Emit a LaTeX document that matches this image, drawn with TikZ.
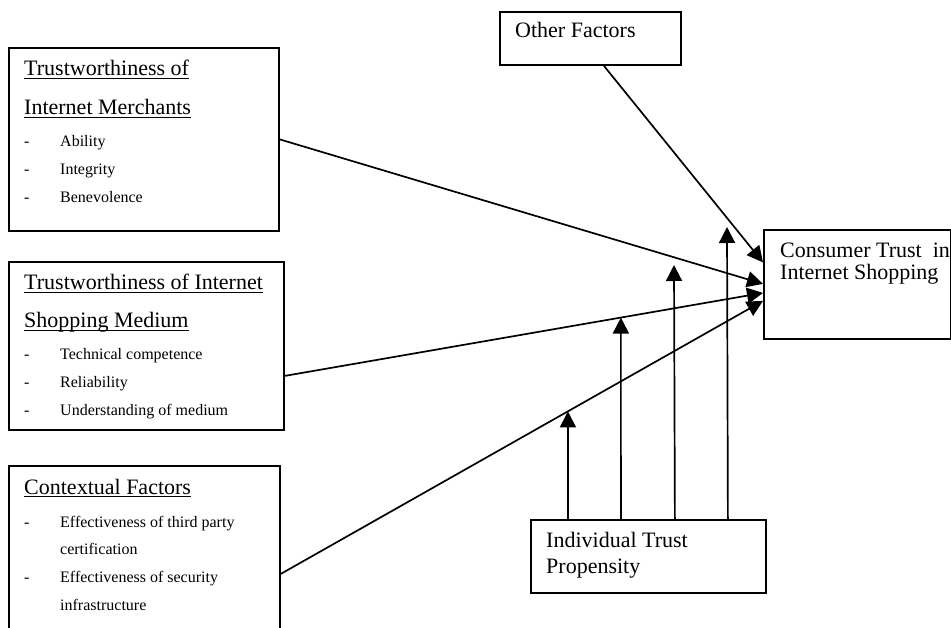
\documentclass[tikz,border=0pt]{standalone}
\usepackage{fontspec}
\setmainfont{Liberation Serif}
\usetikzlibrary{arrows.meta,calc}
\newcommand\ulx[1]{\setbox0\hbox{#1}\rlap{\rule[-2.6pt]{\wd0}{1pt}}\box0}
\tikzset{
  box/.style={draw=black, line width=1.8pt, rectangle, inner sep=0pt, anchor=north west},
  hd/.style={inner sep=0pt, anchor=base west, font=\fontsize{22}{26}\selectfont},
  it/.style={inner sep=0pt, anchor=base west, font=\fontsize{16}{19}\selectfont},
  conn/.style={line width=1.7pt, -{Triangle[length=16pt,width=16pt]}}
}
\begin{document}
\begin{tikzpicture}[x=1pt,y=-1pt]
\clip (0,0) rectangle (951,628);
\fill[white] (0,0) rectangle (951,628);
% boxes
\node[box, minimum width=270, minimum height=183] (m) at (8,47) {};
\node[box, minimum width=275, minimum height=168] (s) at (8,261) {};
\node[box, minimum width=271, minimum height=190] (c) at (8,465) {};
\node[box, minimum width=181, minimum height=53] (of) at (499,11) {};
\node[box, minimum width=187, minimum height=109] (ct) at (763,229) {};
\node[box, minimum width=235, minimum height=73] (itp) at (530,519) {};
% box 1 text
\node[hd] (m1) at (24,76) {\ulx{Trustworthiness of}};
\node[hd] (m2) at (24,115) {\ulx{Internet Merchants}};
\node[it] (md1) at (24,147) {-};
\node[it] (mi1) at (60,147) {Ability};
\node[it] (md2) at (24,175) {-};
\node[it] (mi2) at (60,175) {Integrity};
\node[it] (md3) at (24,203) {-};
\node[it] (mi3) at (60,203) {Benevolence};
% box 2 text
\node[hd] (s1) at (24,290) {\ulx{Trustworthiness of Internet}};
\node[hd] (s2) at (24,328) {\ulx{Shopping Medium}};
\node[it] (sd1) at (24,360) {-};
\node[it] (si1) at (60,360) {Technical competence};
\node[it] (sd2) at (24,388) {-};
\node[it] (si2) at (60,388) {Reliability};
\node[it] (sd3) at (24,416) {-};
\node[it] (si3) at (60,416) {Understanding of medium};
% box 3 text
\node[hd] (c1) at (24,494) {\ulx{Contextual Factors}};
\node[it] (cd1) at (24,527) {-};
\node[it] (ci1) at (60,527) {Effectiveness of third party};
\node[it] (ci1b) at (60,554) {certification};
\node[it] (cd2) at (24,582) {-};
\node[it] (ci2) at (60,582) {Effectiveness of security};
\node[it] (ci2b) at (60,610) {infrastructure};
% other boxes text
\node[hd] (oft) at (515,38) {Other Factors};
\node[hd] (ct1) at (780,258) {Consumer Trust\ \ in};
\node[hd] (ct2) at (780,280) {Internet Shopping};
\node[hd] (itp1) at (546,547) {Individual Trust};
\node[hd] (itp2) at (546,573) {Propensity};
% connector end points
\coordinate (ms) at (m.east);
\coordinate (ss) at ([yshift=-30pt]s.east);
\coordinate (cs) at ([yshift=-13pt]c.east);
\coordinate (os) at ([xshift=13.5pt]of.south);
\coordinate (te0) at ([yshift=22pt]ct.west);
\coordinate (te1) at ([yshift=0.5pt]ct.west);
\coordinate (te2) at ([yshift=-8.5pt]ct.west);
\coordinate (te3) at ([yshift=-16.5pt]ct.west);
\coordinate (p1) at ([xshift=-80.5pt]itp.north);
\coordinate (p2) at ([xshift=-27.5pt]itp.north);
\coordinate (p3) at ([xshift=26.5pt]itp.north);
\coordinate (p4) at ([xshift=79.5pt]itp.north);
\coordinate (q3) at (674,265);
\coordinate (q4) at (727,227);
% connectors
\draw[conn] (os) -- (te0);
\draw[conn] (ms) -- (te1);
\draw[conn] (ss) -- (te2);
\draw[conn] (cs) -- (te3);
\draw[conn] (p1) -- (intersection of p1--{$(p1)+(0,-10)$} and cs--te3);
\draw[conn] (p2) -- (intersection of p2--{$(p2)+(0,-10)$} and ss--te2);
\draw[conn] (p3) -- (q3);
\draw[conn] (p4) -- (q4);
\end{tikzpicture}
\end{document}
